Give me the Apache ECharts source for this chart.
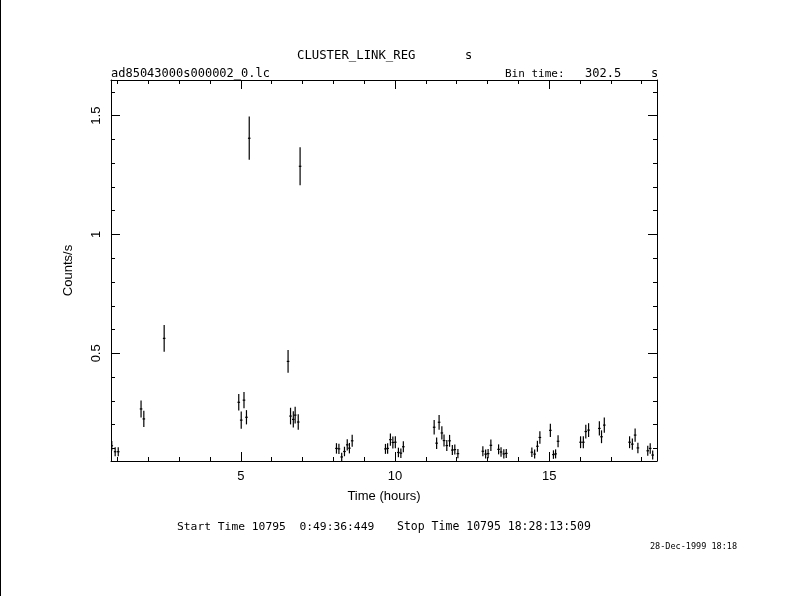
<!DOCTYPE html>
<html><head><meta charset="utf-8">
<script src="https://cdn.jsdelivr.net/npm/echarts@6/dist/echarts.min.js"></script>
<style>html,body{margin:0;padding:0;background:#fff}#c{width:790px;height:596px}</style>
</head><body><div id="c"></div><script>
const hours=[0.81,0.92,1.02,1.76,1.85,2.51,4.93,5.01,5.10,5.18,5.27,6.53,6.61,6.70,6.76,6.86,6.92,
8.10,8.18,8.27,8.36,8.45,8.52,8.61,9.69,9.76,9.85,9.93,10.01,10.11,10.19,10.27,
11.27,11.35,11.43,11.52,11.59,11.68,11.77,11.86,11.94,12.04,12.85,12.94,13.02,13.11,13.36,13.44,13.53,13.61,
14.44,14.53,14.62,14.70,15.04,15.14,15.21,15.29,16.02,16.11,16.19,16.28,16.63,16.70,16.79,
17.61,17.70,17.79,17.88,18.20,18.28,18.36];
const rates=[0.111,0.086,0.086,0.266,0.224,0.563,0.294,0.219,0.303,0.231,1.405,0.466,0.236,0.222,0.240,0.211,1.287,
0.100,0.098,0.064,0.087,0.115,0.101,0.132,0.098,0.100,0.137,0.125,0.126,0.083,0.080,0.107,
0.189,0.122,0.210,0.165,0.133,0.112,0.132,0.093,0.095,0.078,0.088,0.076,0.078,0.113,0.096,0.085,0.077,0.079,
0.084,0.076,0.109,0.146,0.176,0.074,0.077,0.130,0.126,0.126,0.171,0.177,0.184,0.149,0.198,
0.126,0.118,0.156,0.102,0.090,0.100,0.072];
const errors=[0.020,0.019,0.019,0.036,0.034,0.056,0.035,0.036,0.034,0.030,0.091,0.048,0.035,0.034,0.035,0.033,0.080,
0.022,0.022,0.018,0.020,0.024,0.022,0.025,0.021,0.022,0.026,0.025,0.025,0.020,0.020,0.023,
0.030,0.024,0.031,0.028,0.025,0.023,0.025,0.021,0.021,0.019,0.021,0.019,0.019,0.024,0.021,0.020,0.019,0.019,
0.020,0.019,0.023,0.026,0.028,0.018,0.019,0.025,0.025,0.025,0.029,0.029,0.030,0.027,0.032,
0.025,0.024,0.028,0.022,0.021,0.022,0.019];
const halfBin=0.042;
const xMajorTicks=[5,10,15];
const xMinorTicks=[1,2,3,4,5,6,7,8,9,10,11,12,13,14,15,16,17,18];
const yMajorTicks=[0.5,1,1.5];
const yMinorTicks=[0.1,0.2,0.3,0.4,0.5,0.6,0.7,0.8,0.9,1.0,1.1,1.2,1.3,1.4,1.5,1.6];
const xMin=0.785,xMax=18.5,yMin=0.047,yMax=1.65;
const FF='"Liberation Sans", Arial, sans-serif';
const MF='"DejaVu Sans Mono", monospace';

const chart=echarts.init(document.getElementById('c'),null,{renderer:'canvas'});
const black='#000';
function xAx(pos,ticks,len,labels,line){
  return {type:'value',position:pos,min:xMin,max:xMax,
    axisLine:{show:line,onZero:false,lineStyle:{color:black,width:1}},
    axisTick:{show:true,inside:true,length:len,customValues:ticks,lineStyle:{color:black,width:1}},
    axisLabel:{show:labels,customValues:ticks,color:black,fontSize:13,fontFamily:FF,margin:9},
    splitLine:{show:false}};
}
function yAx(pos,ticks,len,labels,line){
  return {type:'value',position:pos,min:yMin,max:yMax,
    axisLine:{show:line,onZero:false,lineStyle:{color:black,width:1}},
    axisTick:{show:true,inside:true,length:len,customValues:ticks,lineStyle:{color:black,width:1}},
    axisLabel:{show:labels,customValues:ticks,color:black,fontSize:13,fontFamily:FF,margin:8,rotate:90,
      formatter:v=>String(v)},
    splitLine:{show:false}};
}
const xb=xAx('bottom',xMajorTicks,9,true,true);
xb.name='Time (hours)';xb.nameLocation='middle';xb.nameGap=29;
xb.nameTextStyle={color:black,fontSize:13,fontFamily:FF};
const yl=yAx('left',yMajorTicks,9,true,true);
yl.name='Counts/s';yl.nameLocation='middle';yl.nameGap=36;yl.nameRotate=90;
yl.nameTextStyle={color:black,fontSize:13,fontFamily:FF};

function txt(x,y,s,size){return {type:'text',x:x,y:y,style:{text:s,fill:black,font:size+'px '+MF,textVerticalAlign:'middle'}};}

chart.setOption({
  animation:false,
  backgroundColor:'#fff',
  grid:{left:111,right:133,top:80,bottom:135,containLabel:false},
  xAxis:[xb,xAx('bottom',xMinorTicks,4,false,false),xAx('top',xMajorTicks,9,false,true),xAx('top',xMinorTicks,4,false,false)],
  yAxis:[yl,yAx('left',yMinorTicks,4,false,false),yAx('right',yMajorTicks,9,false,true),yAx('right',yMinorTicks,4,false,false)],
  series:[{
    type:'custom',xAxisIndex:0,yAxisIndex:0,clip:true,
    data:hours.map((h,i)=>[h,rates[i],errors[i]]),
    encode:{x:0,y:1},
    renderItem:function(params,api){
      const x=api.value(0),y=api.value(1),e=api.value(2);
      const t=api.coord([x,y+e]),b=api.coord([x,y-e]);
      const l=api.coord([x-halfBin,y]),r=api.coord([x+halfBin,y]);
      return {type:'group',children:[
        {type:'line',shape:{x1:t[0],y1:t[1],x2:b[0],y2:b[1]},style:{stroke:black,lineWidth:1.2}},
        {type:'line',shape:{x1:l[0],y1:l[1],x2:r[0],y2:r[1]},style:{stroke:black,lineWidth:1.2}}
      ]};
    }
  }],
  graphic:[
    {type:'rect',left:0,top:0,shape:{width:1,height:596},style:{fill:black}},
    txt(297,54,'CLUSTER_LINK_REG',12.3),
    txt(465,54,'s',12),
    txt(111,72,'ad85043000s000002_0.lc',12),
    txt(505,72,'Bin time:',11),
    txt(585,72,'302.5',12),
    txt(651,72,'s',12),
    txt(177,525,'Start Time 10795  0:49:36:449',11.3),
    txt(397,525,'Stop Time 10795 18:28:13:509',11.5),
    txt(650,545,'28-Dec-1999 18:18',8.5)
  ].map(g=>{ if(g.type==='text'){ g.y+=2; } return g; })
});
</script></body></html>
